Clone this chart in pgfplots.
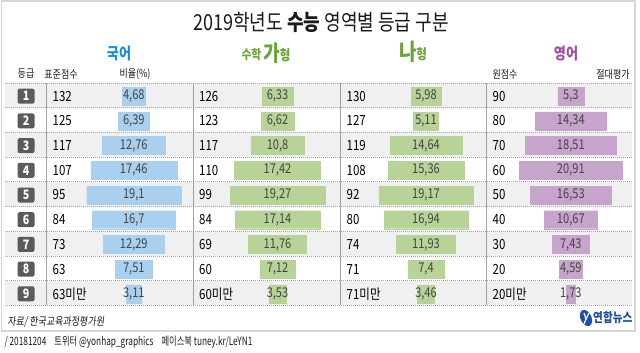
\documentclass[border=0pt]{standalone}
\usepackage{pgfplots}
\pgfplotsset{compat=1.18}
\usepackage{pgfplotstable}
\usepackage{fontspec}
\setmainfont{Noto Sans CJK KR}[FakeStretch=0.82]
\newcommand{\fs}[1]{\fontsize{#1bp}{#1bp}\selectfont}

\definecolor{barblue}{HTML}{A9D0EE}
\definecolor{bargreen}{HTML}{B7D397}
\definecolor{barpurple}{HTML}{C7A4CB}
\definecolor{hblue}{HTML}{1B8ED6}
\definecolor{hgreen}{HTML}{6AA336}
\definecolor{hpurple}{HTML}{9B4F9F}
\definecolor{band}{HTML}{F0F0F0}
\definecolor{gradebox}{HTML}{5B5B5B}
\definecolor{framegray}{HTML}{D6D6D6}
\definecolor{dotgray}{HTML}{A8A8A8}
\definecolor{vgray}{HTML}{A0A0A0}
\definecolor{valcol}{HTML}{444444}
\definecolor{txt}{HTML}{1A1A1A}
\definecolor{logoblue}{HTML}{1F4FA8}

\pgfplotstableread{
g s v
1 132 4.68
2 125 6.39
3 117 12.76
4 107 17.46
5 95 19.1
6 84 16.7
7 73 12.29
8 63 7.51
9 63미만 3.11
}\tabKor

\pgfplotstableread{
g s v
1 126 6.33
2 123 6.62
3 117 10.8
4 110 17.42
5 99 19.27
6 84 17.14
7 69 11.76
8 60 7.12
9 60미만 3.53
}\tabGa

\pgfplotstableread{
g s v
1 130 5.98
2 127 5.11
3 119 14.64
4 108 15.36
5 92 19.17
6 80 16.94
7 74 11.93
8 71 7.4
9 71미만 3.46
}\tabNa

\pgfplotstableread{
g s v
1 90 5.3
2 80 14.34
3 70 18.51
4 60 20.91
5 50 16.53
6 40 10.67
7 30 7.43
8 20 4.59
9 20미만 1.73
}\tabEng

\pgfplotsset{
  full/.style={scale only axis, width=640bp, height=352bp, hide axis, y dir=reverse, clip=false,
    /pgf/number format/assume math mode=true},
  barax/.style={full, ymin=-2.8947, ymax=11.3563,
    /pgf/number format/.cd, fixed, precision=2, use comma},
  halfbar/.style={xbar, bar width=18bp, bar shift=0pt, fill=#1, draw=#1, line width=0.3bp, forget plot},
  vallab/.style={draw=none, mark=none, nodes near coords, point meta=\thisrow{v},
    every node near coord/.append style={anchor=center, font=\fs{13.5}, text=valcol, inner sep=0pt}},
  scorelab/.style={draw=none, mark=none, nodes near coords, point meta=explicit symbolic,
    every node near coord/.append style={anchor=west, font=\fs{14}, text=black, inner sep=0pt}},
}

\begin{document}
\begin{tikzpicture}
% ---------------- main frame axis (pixel coordinates) ----------------
\begin{axis}[full, xmin=0, xmax=640, ymin=0, ymax=352]
\fill[white] (axis cs:0,0) rectangle (axis cs:640,352);
\pgfplotsinvokeforeach{83,132.4,181.8,231.2,280.6}{
  \fill[band] (axis cs:5,#1) rectangle (axis cs:632,#1+24.7);
}
\pgfplotsinvokeforeach{83,107.7,132.4,157.1,181.8,206.5,231.2,255.9,280.6,305.3}{
  \draw[dotgray, line width=0.8bp, dash pattern=on 1bp off 1bp] (axis cs:5,#1) -- (axis cs:632,#1);
}
\pgfplotsinvokeforeach{46,193,340,486}{
  \draw[vgray, line width=0.8bp] (axis cs:#1,83) -- (axis cs:#1,305.3);
}
\draw[framegray, line width=1.6bp] (axis cs:1.5,1) rectangle (axis cs:635,331);

% title
\node[font=\fs{22}, text=txt] at (axis cs:321,22) {2019학년도 \textbf{수능} 영역별 등급 구분};
% section headers
\node[font=\fs{16}\bfseries, text=hblue] at (axis cs:119,54) {국어};
\node[text=hgreen, inner sep=0pt] at (axis cs:266,53)
  {\raisebox{1.5bp}{\fs{13}\bfseries 수학}\hspace{2bp}{\fs{22}\bfseries 가}\raisebox{1bp}{\fs{14}\bfseries 형}};
\node[text=hgreen, inner sep=0pt] at (axis cs:413,52)
  {{\fs{23}\bfseries 나}\raisebox{1bp}{\fs{14}\bfseries 형}};
\node[font=\fs{16}\bfseries, text=hpurple] at (axis cs:566,54) {영어};
% column headers
\node[font=\fs{11}, text=txt] at (axis cs:26,74) {등급};
\node[font=\fs{11}, text=txt] at (axis cs:61,74) {표준점수};
\node[font=\fs{11}, text=txt] at (axis cs:135,74) {비율(\%)};
\node[font=\fs{11}, text=txt] at (axis cs:505,74) {원점수};
\node[font=\fs{11}, text=txt] at (axis cs:613,74) {절대평가};
% footer
\node[anchor=west, font=\fs{11}\addfontfeature{FakeSlant=0.12}, text=txt] at (axis cs:4,322) {자료/ 한국교육과정평가원};
\node[anchor=west, font=\fs{11.5}\addfontfeature{FakeStretch=0.72}, text=txt] at (axis cs:1,342)
  {/ 20181204\hspace{8bp}트위터 @yonhap\_graphics\hspace{8bp}페이스북 tuney.kr/LeYN1};
% logo
\fill[logoblue, rotate around={25:(axis cs:586,318)}] (axis cs:586,318) ellipse [x radius=5.5bp, y radius=8.5bp];
\draw[white, line width=1.2bp] (axis cs:584,313) -- (axis cs:586,319) -- (axis cs:589,313);
\draw[white, line width=1.2bp] (axis cs:586,319) -- (axis cs:584,324);
\node[anchor=west, font=\fs{13}\bfseries, text=logoblue, inner sep=0pt] at (axis cs:593,318) {연합뉴스};

% grade boxes
\addplot[draw=none, mark=none, nodes near coords, point meta=explicit symbolic,
  every node near coord/.append style={anchor=center, fill=gradebox, text=white, rounded corners=2bp,
    minimum width=17bp, minimum height=15bp, inner sep=0pt, font=\fs{13}\bfseries}]
  table[x expr=26, y expr=96.2+(\thisrow{g}-1)*24.7, meta=g] {\tabKor};
% scores
\addplot[scorelab] table[x expr=52.5, y expr=96.2+(\thisrow{g}-1)*24.7, meta=s] {\tabKor};
\addplot[scorelab] table[x expr=199, y expr=96.2+(\thisrow{g}-1)*24.7, meta=s] {\tabGa};
\addplot[scorelab] table[x expr=346.5, y expr=96.2+(\thisrow{g}-1)*24.7, meta=s] {\tabNa};
\addplot[scorelab] table[x expr=492.5, y expr=96.2+(\thisrow{g}-1)*24.7, meta=s] {\tabEng};
\end{axis}

% ---------------- bar axes ----------------
\begin{axis}[barax, xmin=-27.140, xmax=102.677]
\addplot[halfbar=barblue] table[x expr=\thisrow{v}/2, y=g] {\tabKor};
\addplot[halfbar=barblue] table[x expr=-\thisrow{v}/2, y=g] {\tabKor};
\addplot[vallab] table[x expr=0, y=g] {\tabKor};
\end{axis}

\begin{axis}[barax, xmin=-56.288, xmax=73.529]
\addplot[halfbar=bargreen] table[x expr=\thisrow{v}/2, y=g] {\tabGa};
\addplot[halfbar=bargreen] table[x expr=-\thisrow{v}/2, y=g] {\tabGa};
\addplot[vallab] table[x expr=0, y=g] {\tabGa};
\end{axis}

\begin{axis}[barax, xmin=-86.410, xmax=43.407]
\addplot[halfbar=bargreen] table[x expr=\thisrow{v}/2, y=g] {\tabNa};
\addplot[halfbar=bargreen] table[x expr=-\thisrow{v}/2, y=g] {\tabNa};
\addplot[vallab] table[x expr=0, y=g] {\tabNa};
\end{axis}

\begin{axis}[barax, xmin=-115.781, xmax=14.036]
\addplot[halfbar=barpurple] table[x expr=\thisrow{v}/2, y=g] {\tabEng};
\addplot[halfbar=barpurple] table[x expr=-\thisrow{v}/2, y=g] {\tabEng};
\addplot[vallab] table[x expr=0, y=g] {\tabEng};
\end{axis}
\end{tikzpicture}
\end{document}
